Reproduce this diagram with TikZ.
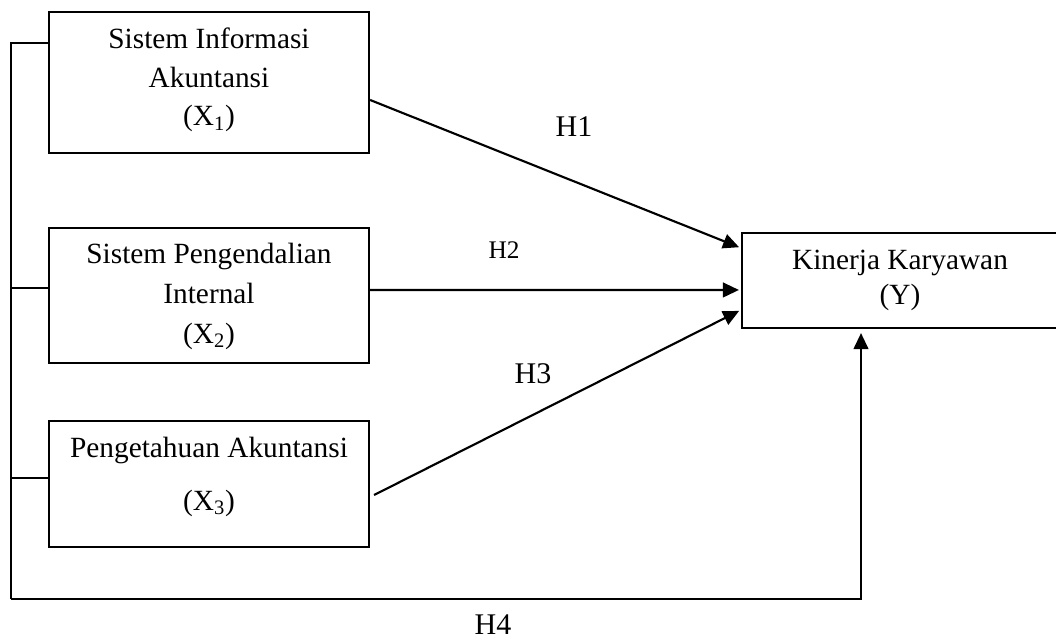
\documentclass[tikz,border=0pt]{standalone}
\usepackage{fontspec}
\setmainfont{Liberation Serif}
\usetikzlibrary{arrows.meta}
\begin{document}
\begin{tikzpicture}[x=0.75pt,y=-0.75pt,
  box/.style={draw,line width=1.6pt,rectangle,inner sep=0pt,minimum width=240pt},
  txt/.style={align=center,inner sep=0pt},
  conn/.style={line width=1.6pt},
  arr/.style={conn,-{Triangle[length=12pt,width=11pt]},shorten >=1.5pt},
  hyp/.style={font=\fontsize{22.5}{27}\selectfont,anchor=base,inner sep=0pt},
]
\useasboundingbox (0,0) rectangle (1056,639);
% boxes
\node[box,minimum height=105.75pt] (X1) at (209,82.5) {};
\node[box,minimum height=101.25pt] (X2) at (209,295.5) {};
\node[box,minimum height=94.5pt] (X3) at (209,484) {};
\node[box,minimum height=71.25pt] (Y) at (902,280.5) {};
% texts
\node[txt,font=\fontsize{22}{29}\selectfont] (t1) at (209,80) {Sistem Informasi\\Akuntansi\\(X\textsubscript{1})};
\node[txt,font=\fontsize{22}{30}\selectfont] (t2) at (209,296) {Sistem Pengendalian\\Internal\\(X\textsubscript{2})};
\node[txt,font=\fontsize{22}{39.75}\selectfont] (t3) at (209,476.5) {Pengetahuan Akuntansi\\(X\textsubscript{3})};
\node[txt,font=\fontsize{22}{26.25}\selectfont] (tY) at (900,280.5) {Kinerja Karyawan\\(Y)};
% left bracket connector
\coordinate (c1) at (11,43);
\coordinate (c2) at (11,288);
\coordinate (c3) at (11,478);
\coordinate (BL) at (11,599);
\coordinate (BR) at (861,599);
\draw[conn] (X1.west |- c1) -- (c1) -- (BL);
\draw[conn] (X2.west |- c2) -- (c2);
\draw[conn] (X3.west |- c3) -- (c3);
\draw[arr,shorten >=3pt] (BL) -- (BR) -- (BR |- Y.south);
% hypothesis arrows
\draw[arr] ([yshift=-13.1pt]X1.east) -- ([yshift=24.4pt]Y.west);
\draw[arr] ([yshift=4.1pt]X2.east) -- ([yshift=-7.1pt]Y.west);
\draw[arr] ([xshift=3pt,yshift=-8.25pt]X3.east) -- ([yshift=-22.1pt]Y.west);
% labels
\node[hyp] (h1) at (574,136) {H1};
\node[hyp,font=\fontsize{19}{23}\selectfont] (h2) at (504,258) {H2};
\node[hyp] (h3) at (533,383) {H3};
\node[hyp] (h4) at (493,634) {H4};
\end{tikzpicture}
\end{document}
